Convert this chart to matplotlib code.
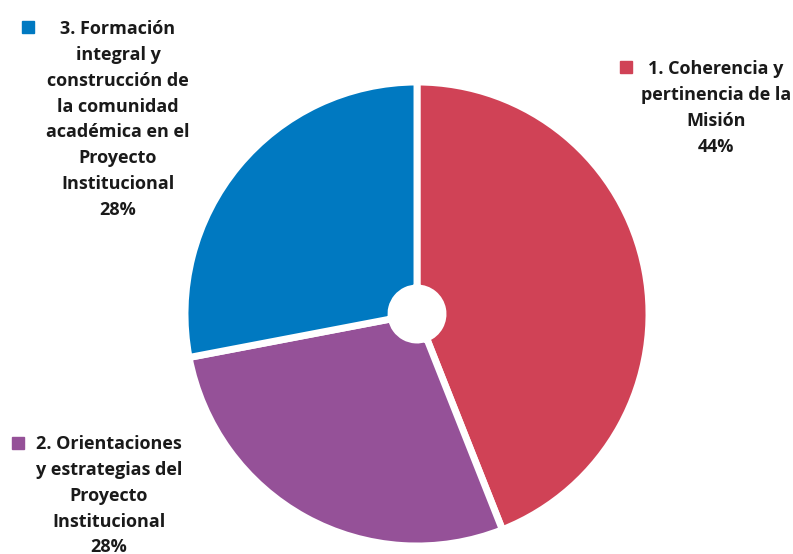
import matplotlib.pyplot as plt

labels = ["1. Coherencia y\npertinencia de la\nMisión",
          "2. Orientaciones\ny estrategias del\nProyecto\nInstitucional",
          "3. Formación\nintegral y\nconstrucción de\nla comunidad\nacadémica en el\nProyecto\nInstitucional"]
values = [44, 28, 28]
colors = ["#D04256", "#955198", "#0079C1"]

W, H = 793, 554
fig = plt.figure(figsize=(W / 100, H / 100), dpi=100)

# pie area: centre (417, 314), radius ~232 px
r = 232
ax = fig.add_axes([(417 - r) / W, 1 - (314 + r) / H, 2 * r / W, 2 * r / H])
ax.pie(values, colors=colors, startangle=90, counterclock=False,
       radius=1.0, wedgeprops=dict(width=1 - 26 / r, edgecolor="white", linewidth=5))
ax.set_xlim(-1, 1)
ax.set_ylim(-1, 1)
ax.set_aspect("equal")
ax.axis("off")

font = ["Open Sans", "DejaVu Sans"]
# label block positions in pixels: (text centre x, first line centre y, marker x, marker y)
spots = [(716, 72, 626, 67), (109, 447, 18, 443), (118, 32, 28, 27)]
for lab, val, col, (tx, ty, mx, my) in zip(labels, values, colors, spots):
    fig.text(tx / W, 1 - (ty - 12) / H, f"{lab}\n{val}%", ha="center", va="top",
             fontsize=13, fontweight="bold", family=font, linespacing=1.56,
             color="#1a1a1a")
    fig.patches.append(plt.Rectangle((mx / W - 6 / W, 1 - my / H - 6 / H), 12 / W, 12 / H,
                                     transform=fig.transFigure, color=col, figure=fig))

fig.savefig("out.png", dpi=100)
